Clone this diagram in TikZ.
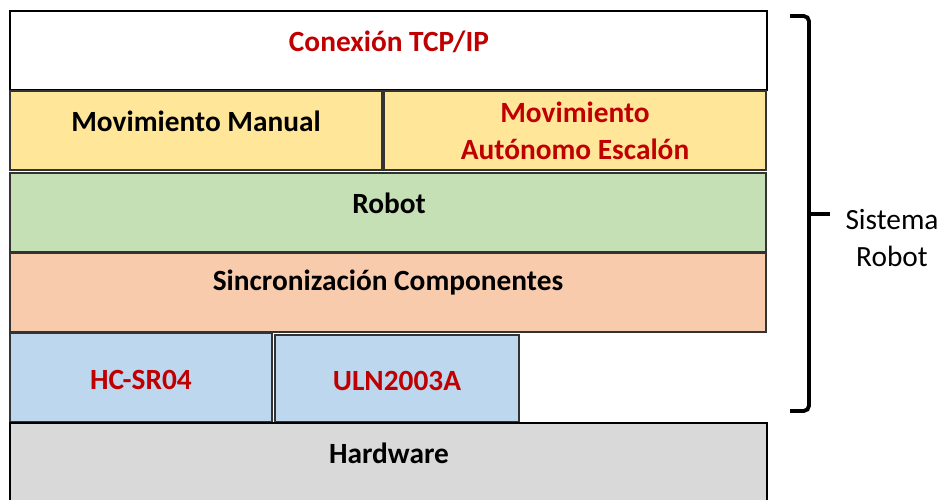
\documentclass[tikz,border=0pt]{standalone}
\usepackage{fontspec}
\setmainfont{Carlito}
\definecolor{rojo}{HTML}{C00000}
\definecolor{amarillo}{HTML}{FFE699}
\definecolor{verde}{HTML}{C5E0B4}
\definecolor{salmon}{HTML}{F8CBAD}
\definecolor{azul}{HTML}{BDD7EE}
\definecolor{gris}{HTML}{D9D9D9}
\begin{document}
\begin{tikzpicture}[x=0.02cm, y=-0.02cm,
    capa/.style={draw=black!80, line width=0.6pt},
    gruesa/.style={draw=black, line width=1.2pt},
    txt/.style={font=\fontsize{16.7}{21}\selectfont\bfseries, align=center},
    rtxt/.style={txt, text=rojo}]
        % Frame
        \useasboundingbox (0,0) rectangle (941,500);
        \clip (0,0) rectangle (941,500);

        % Layers
        \draw[gruesa, fill=white] (10,11) rectangle (767,90);
        \draw[capa, fill=amarillo] (10,91) rectangle (382,170);
        \draw[capa, fill=amarillo] (384,91) rectangle (766,170);
        \draw[capa, fill=verde] (10,173) rectangle (766,252);
        \draw[capa, fill=salmon] (10,253) rectangle (766,332);
        \draw[capa, fill=azul] (10,333) rectangle (272,422);
        \draw[capa, fill=azul] (275,335) rectangle (519,422);
        \draw[gruesa, fill=gris] (10,423) rectangle (767,510);

        % Labels
        \node[rtxt] (tcp) at (389,42) {Conexión TCP/IP};
        \node[txt] (manual) at (196,121) {Movimiento Manual};
        \node[rtxt] (auto) at (575,131) {Movimiento\\Autónomo Escalón};
        \node[txt] (robot) at (389,203) {Robot};
        \node[txt] (sinc) at (388,283) {Sincronización Componentes};
        \node[rtxt] (hc) at (141,380) {HC-SR04};
        \node[rtxt] (uln) at (397,381) {ULN2003A};
        \node[txt] (hw) at (389,453) {Hardware};

        % Brace
        \coordinate (ba) at (790,16);
        \coordinate (bb) at (790,411);
        \coordinate (bm) at (809,214);
        \coordinate (bt) at (830,214);
        \draw[line width=2.2pt, rounded corners=3] (ba) -- (809,16) -- (809,411) -- (bb);
        \draw[line width=2.2pt] (bm) -- (bt);
        \node[font=\fontsize{16.7}{21}\selectfont, align=center] (sist) at (892,238) {Sistema\\Robot};
\end{tikzpicture}
\end{document}
